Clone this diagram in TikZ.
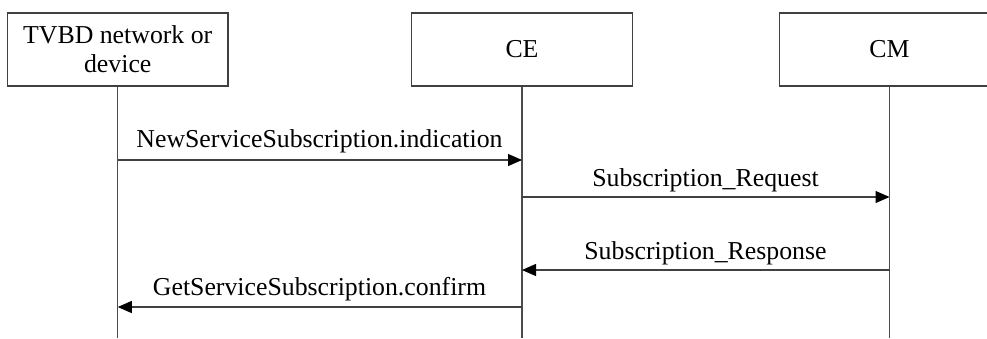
\documentclass[tikz,border=0pt]{standalone}
\usepackage{fontspec}
\setmainfont{Liberation Serif}
\usetikzlibrary{arrows.meta}
\begin{document}
\begin{tikzpicture}[x=1pt,y=-1pt,
  every node/.style={font=\fontsize{25.8}{29}\selectfont, inner sep=0pt},
  entity/.style={draw=black!75, line width=1.1pt, minimum width=220.5pt, minimum height=73pt, align=center},
  life/.style={draw=black!70, line width=1.1pt},
  msg/.style={draw=black!75, line width=1.1pt, -{Triangle[length=14pt,width=12pt,fill=black,color=black]}},
  lbl/.style={anchor=base}]
\useasboundingbox (0,0) rectangle (987,338);
\fill[white] (0,0) rectangle (987,338);
\node[entity] (tvbd) at (117.75,49.5) {TVBD network or\\device};
\node[entity] (ce) at (522,49.5) {CE};
\node[entity] (cm) at (889.5,49.5) {CM};
\coordinate (tvbdEnd) at (117.75,338);
\coordinate (ceEnd) at (522,338);
\coordinate (cmEnd) at (889.5,338);
\draw[life] (tvbd.south) -- (tvbdEnd);
\draw[life] (ce.south) -- (ceEnd);
\draw[life] (cm.south) -- (cmEnd);
% messages
\coordinate (m1s) at (117.75,160); \coordinate (m1e) at (522,160);
\coordinate (m2s) at (522,197);    \coordinate (m2e) at (889.5,197);
\coordinate (m3s) at (889.5,270);  \coordinate (m3e) at (522,270);
\coordinate (m4s) at (522,307);    \coordinate (m4e) at (117.75,307);
\draw[msg] (m1s) -- (m1e);
\draw[msg] (m2s) -- (m2e);
\draw[msg] (m3s) -- (m3e);
\draw[msg] (m4s) -- (m4e);
\node[lbl] (l1) at (319.5,147) {NewServiceSubscription.indication};
\node[lbl] (l2) at (705.5,186) {Subscription\_Request};
\node[lbl] (l3) at (705.5,259.5) {Subscription\_Response};
\node[lbl] (l4) at (319.5,295.5) {GetServiceSubscription.confirm};
\end{tikzpicture}
\end{document}
